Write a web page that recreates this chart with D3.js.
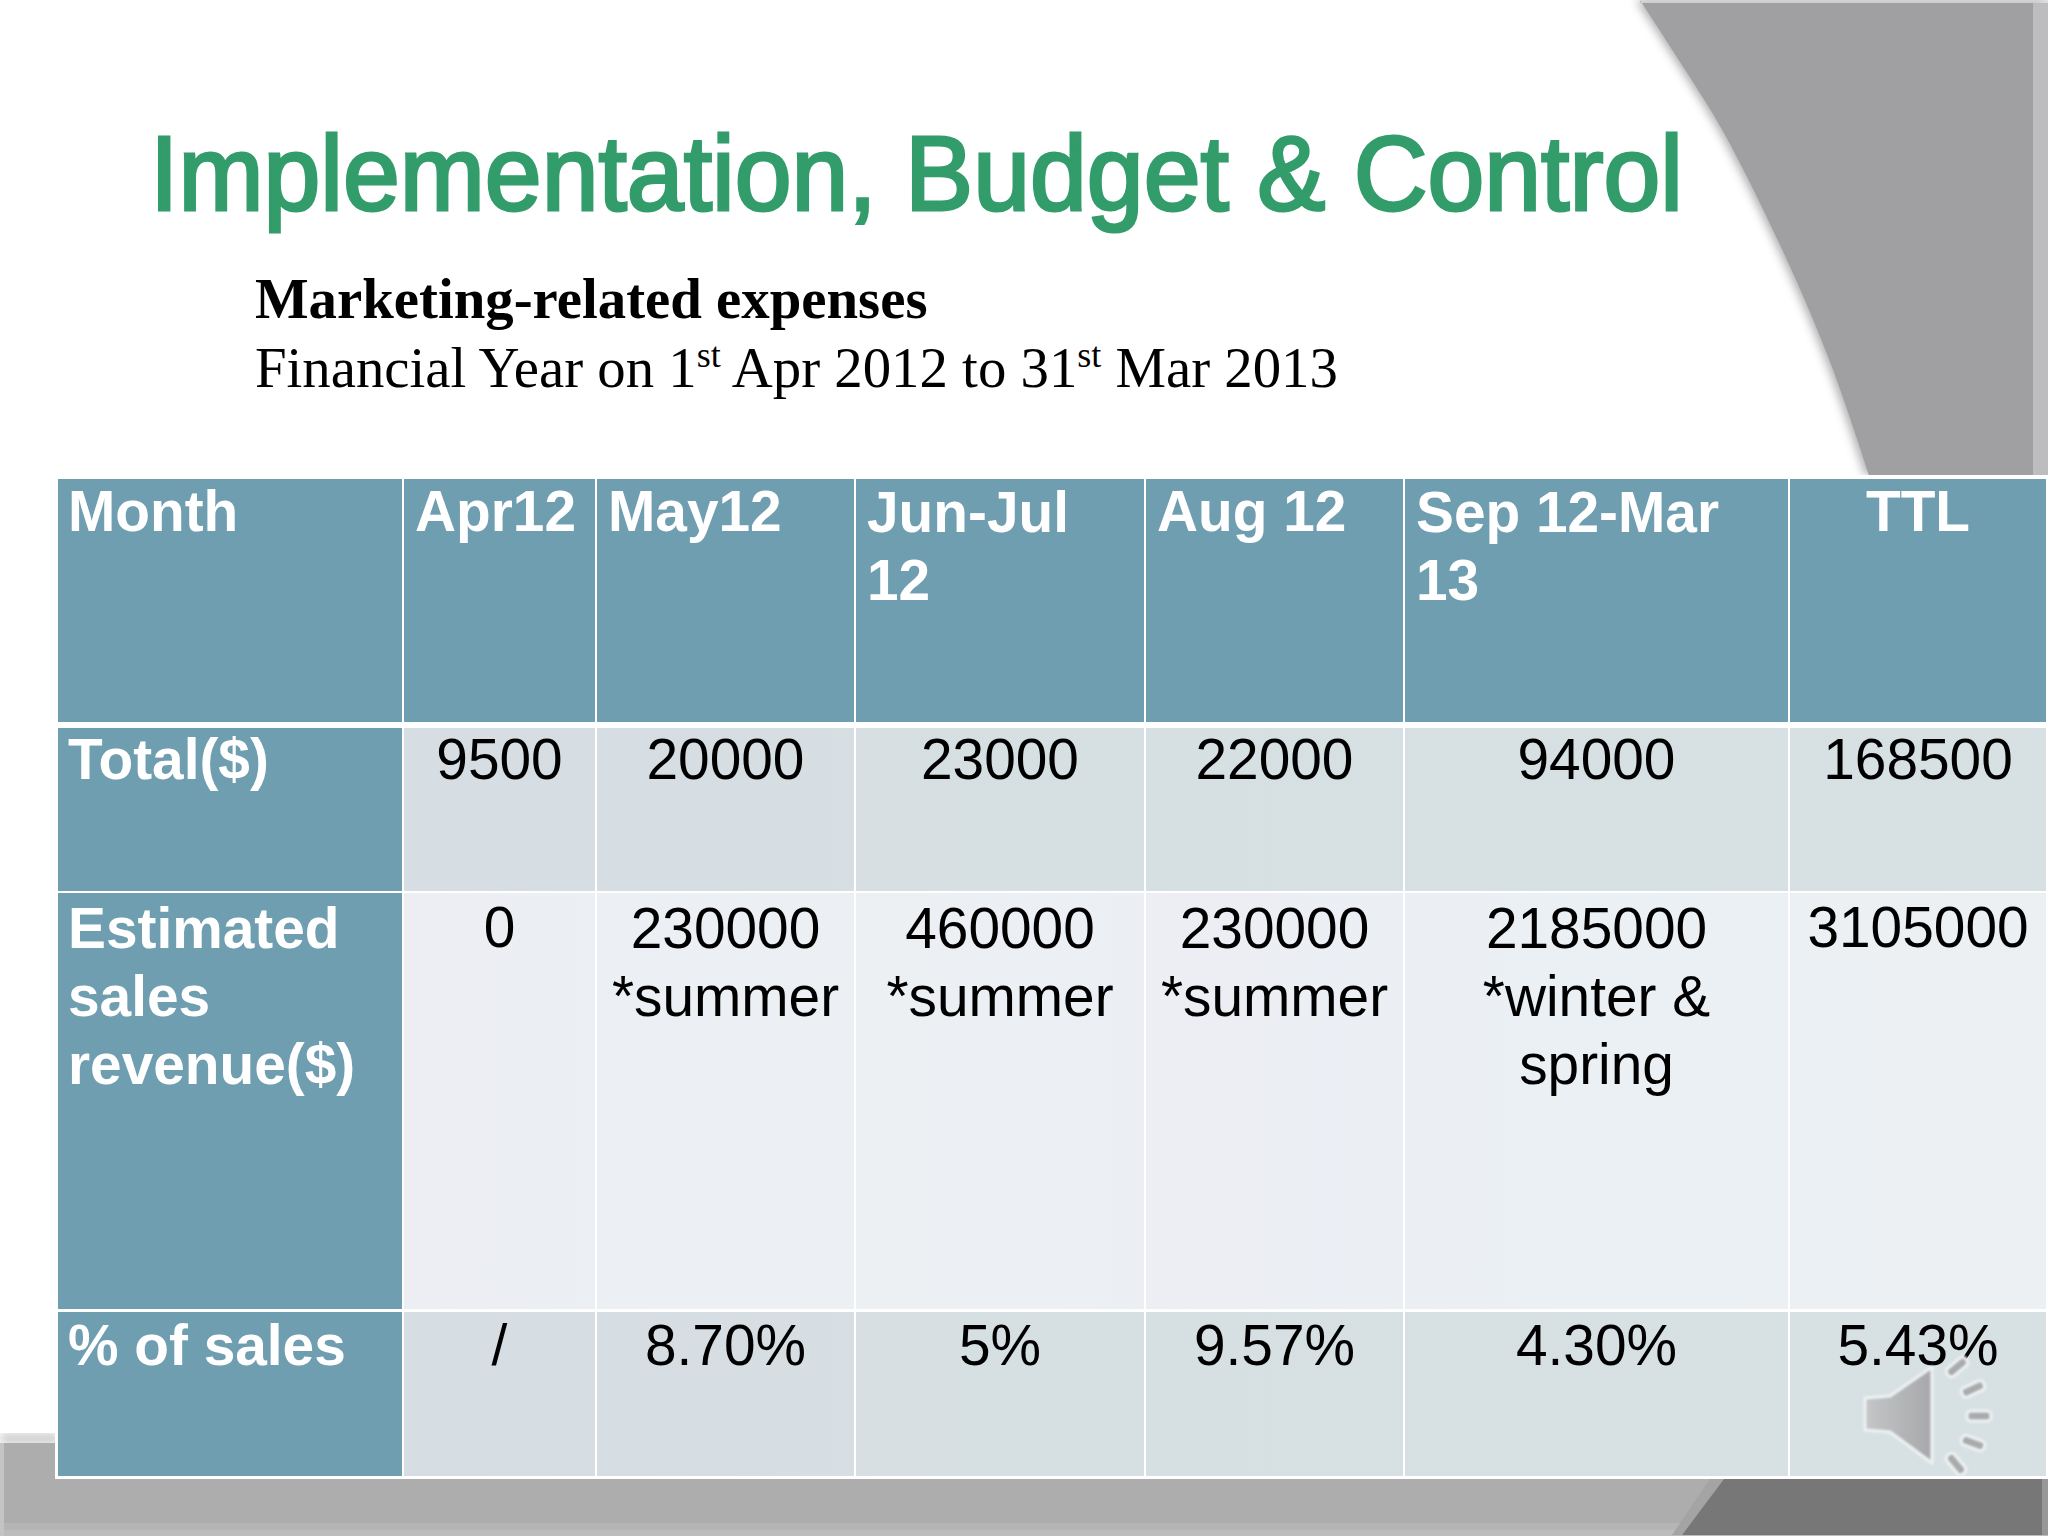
<!DOCTYPE html>
<html>
<head>
<meta charset="utf-8">
<script src="https://cdnjs.cloudflare.com/ajax/libs/d3/7.8.5/d3.min.js"></script>
<style>
  html, body { margin: 0; padding: 0; background: #fff; }
  svg { display: block; }
  .sans { font-family: "Liberation Sans", Arial, sans-serif; }
  .serif { font-family: "Liberation Serif", "Times New Roman", serif; }
</style>
</head>
<body>
<div class="slide"></div>
<script>
// table content
const months = [["Apr12"], ["May12"], ["Jun-Jul", "12"], ["Aug 12"], ["Sep 12-Mar", "13"], ["TTL"]];
const rowLabels = [["Month"], ["Total($)"], ["Estimated", "sales", "revenue($)"], ["% of sales"]];
const totals = [9500, 20000, 23000, 22000, 94000, 168500];
const revenue = [0, 230000, 460000, 230000, 2185000, 3105000];
const revenueNotes = [[], ["*summer"], ["*summer"], ["*summer"], ["*winter &", "spring"], []];
const percents = ["/", "8.70%", "5%", "9.57%", "4.30%", "5.43%"];

const svg_width = 2048;
const svg_height = 1536;
const svg = d3.select(".slide").append("svg")
  .attr("width", svg_width).attr("height", svg_height);
const defs = svg.append("defs");

defs.append("filter").attr("id", "soft").attr("x", "-10%").attr("y", "-10%").attr("width", "120%").attr("height", "120%")
  .append("feGaussianBlur").attr("stdDeviation", 5);
defs.append("filter").attr("id", "soft2").append("feGaussianBlur").attr("stdDeviation", 0.8);

const bodyGrad = defs.append("linearGradient").attr("id", "rowDark").attr("gradientUnits", "userSpaceOnUse")
  .attr("x1", 402).attr("x2", 2048).attr("y1", 0).attr("y2", 0);
[[0, "#d6dde3"], [0.4, "#d6dfe2"], [1, "#d7e1e4"]].forEach(s =>
  bodyGrad.append("stop").attr("offset", s[0]).attr("stop-color", s[1]));

const lightGrad = defs.append("linearGradient").attr("id", "rowLight").attr("gradientUnits", "userSpaceOnUse")
  .attr("x1", 402).attr("x2", 2048).attr("y1", 0).attr("y2", 0);
[[0, "#eceef4"], [0.3, "#ecf0f3"], [0.5, "#eceef4"], [0.7, "#ebf0f4"], [1, "#ecf0f3"]].forEach(s =>
  lightGrad.append("stop").attr("offset", s[0]).attr("stop-color", s[1]));

// background shapes of the slide theme
const curve = d3.line().curve(d3.curveCatmullRom);
const swoosh = [[1640, 0], [1684, 68], [1724, 133], [1787, 260], [1832, 367], [1869, 475]];
const swooshPath = curve(swoosh);

svg.append("path").attr("d", `${swooshPath}L2048,475L2048,0Z`)
  .attr("fill", "#8f8f92").attr("filter", "url(#soft)").attr("transform", "translate(-4,0)").attr("opacity", 0.7);
svg.append("rect").attr("x", 0).attr("y", 475).attr("width", 2048).attr("height", 1000).attr("fill", "#fff");
svg.append("path").attr("d", `${swooshPath}L2035,475L2035,3L1640,3Z`).attr("fill", "#a09fa2");
svg.append("rect").attr("x", 2033).attr("y", 3).attr("width", 15).attr("height", 472).attr("fill", "#bdbcbe");
svg.append("rect").attr("x", 1640).attr("y", 0).attr("width", 408).attr("height", 3).attr("fill", "#d0d0d0").attr("opacity", 0.6);

svg.append("rect").attr("x", 0).attr("y", 1434).attr("width", 60).attr("height", 9).attr("fill", "#c4c4c4").attr("filter", "url(#soft)");
svg.append("rect").attr("x", 0).attr("y", 1443).attr("width", 2048).attr("height", 80).attr("fill", "#adadad");
svg.append("rect").attr("x", 0).attr("y", 1523).attr("width", 2048).attr("height", 7).attr("fill", "#b5b5b5");
svg.append("rect").attr("x", 0).attr("y", 1530).attr("width", 2048).attr("height", 6).attr("fill", "#bcbcbc");
svg.append("rect").attr("x", 0).attr("y", 1443).attr("width", 4).attr("height", 93).attr("fill", "#c4c4c4");
svg.append("path").attr("d", "M1724,1479L1710,1479L1672,1535L1682,1535Z").attr("fill", "#a4a4a4");
svg.append("path").attr("d", "M1724,1479L2048,1479L2048,1535L1682,1535Z").attr("fill", "#777");
svg.append("rect").attr("x", 2042).attr("y", 1479).attr("width", 6).attr("height", 56).attr("fill", "#989898");

// title
svg.append("text").attr("class", "sans")
  .attr("x", 150).attr("y", 210)
  .attr("font-size", 106).attr("fill", "#339c6b")
  .attr("stroke", "#339c6b").attr("stroke-width", 3)
  .attr("textLength", 1533).attr("lengthAdjust", "spacingAndGlyphs")
  .text("Implementation, Budget & Control");

svg.append("text").attr("class", "serif")
  .attr("x", 255).attr("y", 318)
  .attr("font-size", 56.8).attr("font-weight", "bold").attr("fill", "#000")
  .text("Marketing-related expenses");

const sub = svg.append("text").attr("class", "serif")
  .attr("x", 255).attr("y", 387)
  .attr("font-size", 56.8).attr("fill", "#000");
sub.append("tspan").text("Financial Year on 1");
sub.append("tspan").attr("dy", -20).attr("font-size", 36).text("st");
sub.append("tspan").attr("dy", 20).text(" Apr 2012 to 31");
sub.append("tspan").attr("dy", -20).attr("font-size", 36).text("st");
sub.append("tspan").attr("dy", 20).text(" Mar 2013");

// table layout
const colKeys = ["label", 0, 1, 2, 3, 4, 5];
const xLeft = d3.scaleOrdinal(colKeys, [58, 404, 597, 856, 1146, 1405, 1790]);
const xRight = d3.scaleOrdinal(colKeys, [402, 595, 854, 1144, 1403, 1788, 2046]);
const rowKeys = ["head", "total", "revenue", "percent"];
const yTop = d3.scaleOrdinal(rowKeys, [479, 728, 893, 1312]);
const yBottom = d3.scaleOrdinal(rowKeys, [722, 891, 1309, 1476]);
const yBase = d3.scaleOrdinal(rowKeys, [531, 779, 948, 1365]);
const lineStep = 68;

const table = svg.append("g").attr("class", "table");

// white frame behind the cells
table.append("rect").attr("x", 55).attr("y", 476).attr("width", 1993).attr("height", 1003).attr("fill", "#fff");

const rowFill = { total: "url(#rowDark)", revenue: "url(#rowLight)", percent: "url(#rowDark)" };

const cells = [];
rowKeys.forEach(row => {
  colKeys.forEach(col => {
    cells.push({ row, col, fill: (col === "label" || row === "head") ? "#6f9eb0" : rowFill[row] });
  });
});

table.selectAll(".cell").data(cells).enter().append("rect")
  .attr("class", "cell")
  .attr("x", d => xLeft(d.col))
  .attr("y", d => yTop(d.row))
  .attr("width", d => xRight(d.col) - xLeft(d.col))
  .attr("height", d => yBottom(d.row) - yTop(d.row))
  .attr("fill", d => d.fill);

function addLines(lines, x, y, anchor, bold, fill) {
  const t = table.append("text").attr("class", "sans")
    .attr("font-size", 56.8).attr("text-anchor", anchor)
    .attr("font-weight", bold ? "bold" : "normal").attr("fill", fill);
  lines.forEach((s, i) => t.append("tspan").attr("x", x).attr("y", y + i * lineStep).text(s));
}

// row labels
rowLabels.forEach((lines, i) => addLines(lines, 68, yBase(rowKeys[i]), "start", true, "#fff"));

// header months
months.forEach((lines, i) => {
  if (i === 5) addLines(lines, (xLeft(i) + xRight(i)) / 2, yBase("head"), "middle", true, "#fff");
  else addLines(lines, xLeft(i) + 11, yBase("head") + (lines.length > 1 ? 1 : 0), "start", true, "#fff");
});

// value rows
const mid = i => (xLeft(i) + xRight(i)) / 2;
totals.forEach((v, i) => addLines([String(v)], mid(i), yBase("total"), "middle", false, "#000"));
revenue.forEach((v, i) => addLines([String(v)].concat(revenueNotes[i]), mid(i), yBase("revenue") - (revenueNotes[i].length ? 0 : 1), "middle", false, "#000"));
percents.forEach((v, i) => addLines([v], mid(i), yBase("percent"), "middle", false, "#000"));

// speaker icon
const icon = svg.append("g").attr("class", "speaker").attr("filter", "url(#soft2)");
const speakerGrad = defs.append("linearGradient").attr("id", "speakerFill");
[[0, "#c4c6c8"], [1, "#a6a8aa"]].forEach(s =>
  speakerGrad.append("stop").attr("offset", s[0]).attr("stop-color", s[1]));
icon.append("path")
  .attr("d", "M1865,1398L1890,1396L1932,1367L1932,1463L1890,1432L1865,1430Z")
  .attr("fill", "url(#speakerFill)").attr("stroke", "#eef2f2").attr("stroke-width", 3).attr("stroke-linejoin", "round");
[[1957, 1367, -40], [1973, 1389, -25], [1979, 1416, 0], [1973, 1443, 20], [1956, 1464, 50]].forEach(d => {
  icon.append("rect").attr("x", -12).attr("y", -5).attr("width", 24).attr("height", 10).attr("rx", 4)
    .attr("transform", `translate(${d[0]},${d[1]}) rotate(${d[2]})`)
    .attr("fill", "#a8aaac").attr("stroke", "#eef2f2").attr("stroke-width", 3);
});
</script>
</body>
</html>
